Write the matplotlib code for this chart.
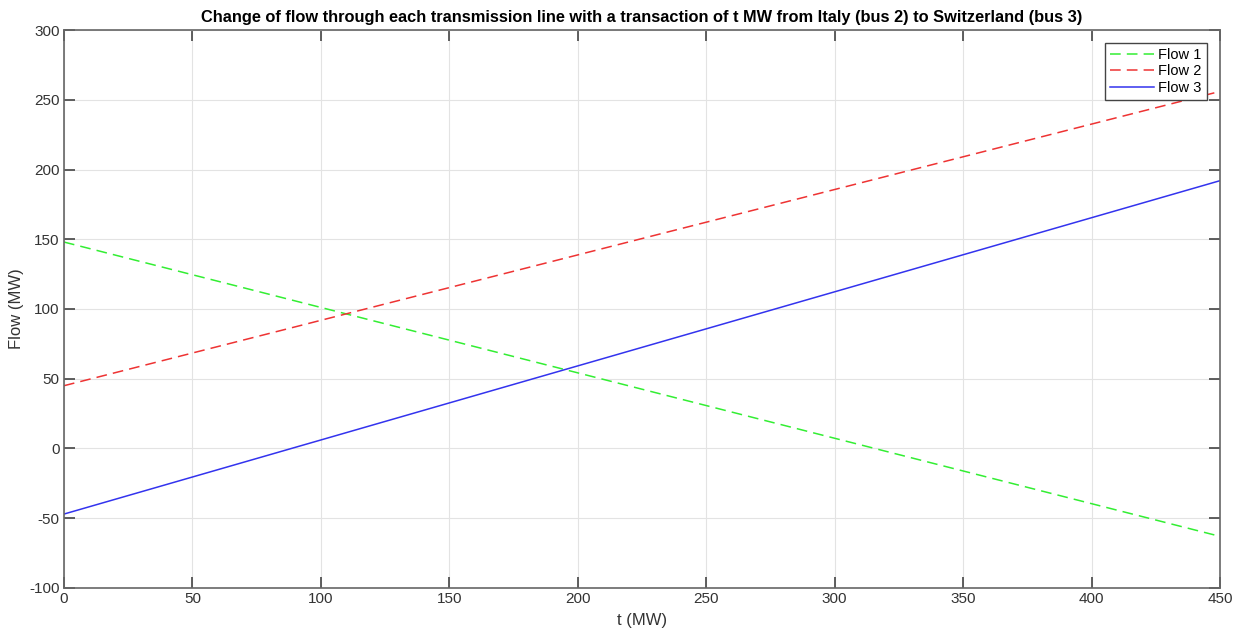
import matplotlib
matplotlib.use('Agg')
from matplotlib import pyplot as plt

plt.rcParams['font.family'] = ['Liberation Sans', 'DejaVu Sans']
plt.rcParams['axes.unicode_minus'] = False

# transaction size (MW) and resulting line flows (MW)
t = [0, 450]
flow1 = [148, -63]
flow2 = [45, 256]
flow3 = [-47, 192]

xticks = list(range(0, 451, 50))
yticks = list(range(-100, 301, 50))

fig = plt.figure(figsize=(12.37, 6.33), dpi=100)
ax = fig.add_axes([0.0517, 0.0711, 0.9346, 0.8815])

ax.plot(t, flow1, color='#33ee33', linestyle=(0, (7, 4)), linewidth=1.1, label='Flow 1')
ax.plot(t, flow2, color='#ee3333', linestyle=(0, (7, 4)), linewidth=1.1, label='Flow 2')
ax.plot(t, flow3, color='#3333ee', linestyle='-', linewidth=1.1, label='Flow 3')

ax.set_xlim(0, 450)
ax.set_ylim(-100, 300)
ax.set_xticks(xticks)
ax.set_yticks(yticks)
ax.grid(True, color='#e3e3e3', linewidth=0.8)
ax.set_axisbelow(True)
ax.tick_params(direction='in', top=True, right=True, length=8, width=1.2,
               color='#444444', labelcolor='#333333', labelsize=11, pad=3)
for s in ax.spines.values():
    s.set_color('#666666')
    s.set_linewidth(1.2)

ax.set_title('Change of flow through each transmission line with a transaction of t MW from Italy (bus 2) to Switzerland (bus 3)',
             fontsize=11.8, fontweight='bold', pad=6)
ax.set_xlabel('t (MW)', fontsize=12, color='#333333', labelpad=5)
ax.set_ylabel('Flow (MW)', fontsize=12, color='#333333', labelpad=4)

leg = ax.legend(loc='upper right', fontsize=10.5, fancybox=False, framealpha=1,
                edgecolor='#444444', borderaxespad=0.9, handlelength=3.0,
                labelspacing=0.15, borderpad=0.35, handletextpad=0.3)
leg.get_frame().set_linewidth(1.0)

plt.savefig('out.png', dpi=100)
